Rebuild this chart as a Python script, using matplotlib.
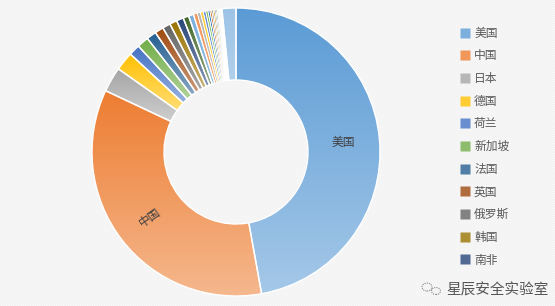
import numpy as np
import matplotlib.pyplot as plt
from matplotlib.patches import Rectangle, Ellipse
from matplotlib.lines import Line2D
from matplotlib.colors import to_rgb

plt.rcParams['font.family'] = ['Noto Sans CJK SC', 'DejaVu Sans']
plt.rcParams['hatch.linewidth'] = 0.5
plt.rcParams['hatch.color'] = '#ededed'

# legend names (first 11 slices); the rest of the ring is small unnamed countries
names = ['美国', '中国', '日本', '德国', '荷兰', '新加坡', '法国', '英国', '俄罗斯', '韩国', '南非']
values = [47.1, 34.8, 2.8, 2.1, 1.25, 1.3, 1.1, 0.97, 0.89, 0.83, 0.78,
          0.64, 0.56, 0.44, 0.36, 0.31, 0.28, 0.25,
          0.22, 0.19, 0.17, 0.17, 0.14, 0.14, 0.11, 0.11, 0.11, 0.08, 0.08, 0.06,
          1.55]
inner_labels = {0: ('美国', 0), 1: ('中国', 35)}

# excel office palette and its shades
palette = [
    ['#5B9BD5', '#ED7D31', '#A5A5A5', '#FFC000', '#4472C4', '#70AD47'],
    ['#255E91', '#9E480E', '#636363', '#997300', '#264478', '#43682B'],
    ['#7CAFDD', '#F1975A', '#B7B7B7', '#FFCD33', '#698ED0', '#8CC168'],
    ['#327DC2', '#D26012', '#848484', '#CC9A00', '#335AA1', '#5A8A39'],
    ['#9DC3E6', '#F4B183', '#C9C9C9', '#FFD966', '#8FAADC', '#A9D18E'],
    ['#9DC3E6', '#F8CBAD', '#DBDBDB', '#FFE699', '#B4C7E7', '#C5E0B4'],
]
colors = [palette[i // 6][i % 6] for i in range(len(values))]


def lighten(c, f):
    r = np.array(to_rgb(c))
    return r + (1 - r) * f


fig = plt.figure(figsize=(5.55, 3.06), dpi=100)
fig.patches.append(Rectangle((0, 0), 1, 1, transform=fig.transFigure, facecolor='#fbfbfb',
                             edgecolor='#ededed', hatch='\\' * 14, lw=0, zorder=-10))

ax = fig.add_axes([92 / 555, 10 / 306, 288 / 555, 288 / 306])
ax.set_facecolor('none')
wedges, _ = ax.pie(values, startangle=90, counterclock=False, radius=1,
                   wedgeprops=dict(width=0.5, edgecolor='white', linewidth=1.0))

# vertical gradient inside every wedge
for i, (w, c) in enumerate(zip(wedges, colors)):
    bb = w.get_path().get_extents()
    top = lighten(c, 0.0)
    bot = lighten(c, 0.45 if i < 12 else 0.2)
    t = np.linspace(0, 1, 128)[:, None]
    img = (top[None, :] * (1 - t) + bot[None, :] * t)[:, None, :]
    im = ax.imshow(img, extent=[bb.x0, bb.x1, bb.y0, bb.y1], origin='upper',
                   aspect='auto', zorder=1, interpolation='bilinear')
    im.set_clip_path(w)
    w.set_facecolor('none')
    w.set_zorder(2)
    if values[i] < 0.5:
        w.set_linewidth(0.5)

for idx, (txt, rot) in inner_labels.items():
    w = wedges[idx]
    ang = np.deg2rad((w.theta1 + w.theta2) / 2)
    r = 0.75
    ax.text(r * np.cos(ang), r * np.sin(ang), txt, ha='center', va='center',
            fontsize=8.5, color='#404040', rotation=rot, zorder=3)

ax.set_xlim(-1, 1)
ax.set_ylim(-1, 1)
ax.set_aspect('auto')
ax.axis('off')

handles = [Line2D([], [], marker='s', ls='none', markersize=6.5,
                  markerfacecolor=lighten(colors[i], 0.2), markeredgecolor='none')
           for i in range(len(names))]
fig.legend(handles, names, loc='upper left', bbox_to_anchor=(454 / 555, 1 - 22 / 306),
           frameon=False, fontsize=8.5, labelcolor='#595959', handletextpad=0.3,
           labelspacing=0.82, handlelength=1.0, borderaxespad=0)

# watermark
fig.text(446 / 555, 1 - 290 / 306, '星辰安全实验室', fontsize=10.5, color='#555555',
         ha='left', va='center')
fig.patches.append(Ellipse((427 / 555, 1 - 287 / 306), 10 / 555, 8 / 306,
                           transform=fig.transFigure, fill=False, ec='#888888',
                           lw=0.8, ls=(0, (1, 1))))
fig.patches.append(Ellipse((436 / 555, 1 - 291 / 306), 9 / 555, 7 / 306,
                           transform=fig.transFigure, fill=False, ec='#888888',
                           lw=0.8, ls=(0, (1, 1))))

fig.savefig('out.png', dpi=100)
